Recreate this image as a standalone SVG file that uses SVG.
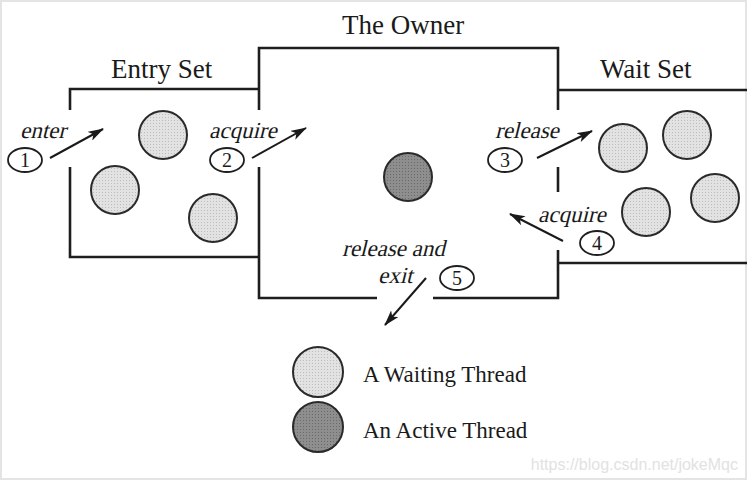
<svg xmlns="http://www.w3.org/2000/svg" width="747" height="483" viewBox="0 0 747 483">
<defs>
<style>
.wall{fill:none;stroke:#1e1e1e;stroke-width:2.6}
.title{font-family:"Liberation Serif",serif;font-size:27px;fill:#1a1a1a}
.lab{font-family:"Liberation Serif",serif;font-size:23px;fill:#1a1a1a}
.num{font-family:"Liberation Serif",serif;font-size:20px;fill:#1a1a1a;text-anchor:middle}
.leg{font-family:"Liberation Serif",serif;font-size:23px;fill:#1a1a1a}
.wait{fill:url(#wp);stroke:#2a2a2a;stroke-width:2}
.act{fill:url(#ap);stroke:#2a2a2a;stroke-width:2}
.oval{fill:#fff;stroke:#1e1e1e;stroke-width:1.8}
.arr{fill:none;stroke:#1a1a1a;stroke-width:2;marker-end:url(#ah)}
</style>
<pattern id="wp" width="3" height="3" patternUnits="userSpaceOnUse">
<rect width="3" height="3" fill="#e2e2e2"/>
<rect width="1" height="1" fill="#bdbdbd"/>
</pattern>
<pattern id="ap" width="3" height="3" patternUnits="userSpaceOnUse">
<rect width="3" height="3" fill="#8e8e8e"/>
<rect width="1" height="1" fill="#6a6a6a"/>
</pattern>
<marker id="ah" viewBox="0 0 16 10" refX="15" refY="5" markerWidth="16" markerHeight="10" markerUnits="userSpaceOnUse" orient="auto">
<path d="M0,0 L16,5 L0,10 L4,5 Z" fill="#1a1a1a"/>
</marker>
</defs>
<rect x="0" y="0" width="747" height="483" fill="#fff"/>
<rect x="1" y="1" width="745" height="478" fill="none" stroke="#e4e4e4" stroke-width="2"/>

<g id="entry-set">
<path class="wall" d="M259,89 H70 V110 M70,167 V257 H259"/>
<text class="title" x="111" y="78">Entry Set</text>
<circle class="wait" cx="163" cy="135" r="24"/>
<circle class="wait" cx="115" cy="190" r="24"/>
<circle class="wait" cx="213" cy="218" r="24"/>
</g>

<g id="owner">
<path class="wall" d="M259,110 V48 H558 V110 M259,167 V298 H377 M433,298 H558 V250 M558,167 V192"/>
<text class="title" x="342" y="34">The Owner</text>
<circle class="act" cx="408" cy="177" r="24"/>
</g>

<g id="wait-set">
<path class="wall" d="M558,90 H747 M558,263 H747"/>
<text class="title" x="600" y="78">Wait Set</text>
<circle class="wait" cx="623" cy="148" r="24"/>
<circle class="wait" cx="687" cy="135" r="24"/>
<circle class="wait" cx="646" cy="212" r="24"/>
<circle class="wait" cx="715" cy="198" r="24"/>
</g>

<g id="connectors">
<line class="arr" x1="50" y1="158" x2="103" y2="129"/>
<line class="arr" x1="252" y1="158" x2="306" y2="128"/>
<line class="arr" x1="537" y1="158" x2="592" y2="131"/>
<line class="arr" x1="563" y1="241" x2="510" y2="214"/>
<line class="arr" x1="426" y1="278" x2="385" y2="325"/>
</g>

<g id="step-1">
<text class="lab" transform="translate(20,138) skewX(-14)">enter</text>
<ellipse class="oval" cx="25" cy="160" rx="17" ry="12"/>
<text class="num" x="25" y="167">1</text>
</g>
<g id="step-2">
<text class="lab" transform="translate(209,138) skewX(-14)">acquire</text>
<ellipse class="oval" cx="227" cy="160" rx="17" ry="12"/>
<text class="num" x="227" y="167">2</text>
</g>
<g id="step-3">
<text class="lab" transform="translate(495,138) skewX(-14)">release</text>
<ellipse class="oval" cx="505" cy="160" rx="17" ry="12"/>
<text class="num" x="505" y="167">3</text>
</g>
<g id="step-4">
<text class="lab" transform="translate(538,222) skewX(-14)">acquire</text>
<ellipse class="oval" cx="597" cy="243" rx="17" ry="12"/>
<text class="num" x="597" y="250">4</text>
</g>
<g id="step-5">
<text class="lab" transform="translate(342,256) skewX(-14)">release and</text>
<text class="lab" transform="translate(378,283) skewX(-14)">exit</text>
<ellipse class="oval" cx="457" cy="278" rx="17" ry="12"/>
<text class="num" x="457" y="285">5</text>
</g>

<g id="legend">
<circle class="wait" cx="318" cy="372" r="25"/>
<text class="leg" x="363" y="382">A Waiting Thread</text>
<circle class="act" cx="318" cy="427" r="25"/>
<text class="leg" x="363" y="438">An Active Thread</text>
</g>

<text x="738" y="470" text-anchor="end" font-family="Liberation Sans, sans-serif" font-size="16" fill="#e2e2e2">https://blog.csdn.net/jokeMqc</text>
</svg>
